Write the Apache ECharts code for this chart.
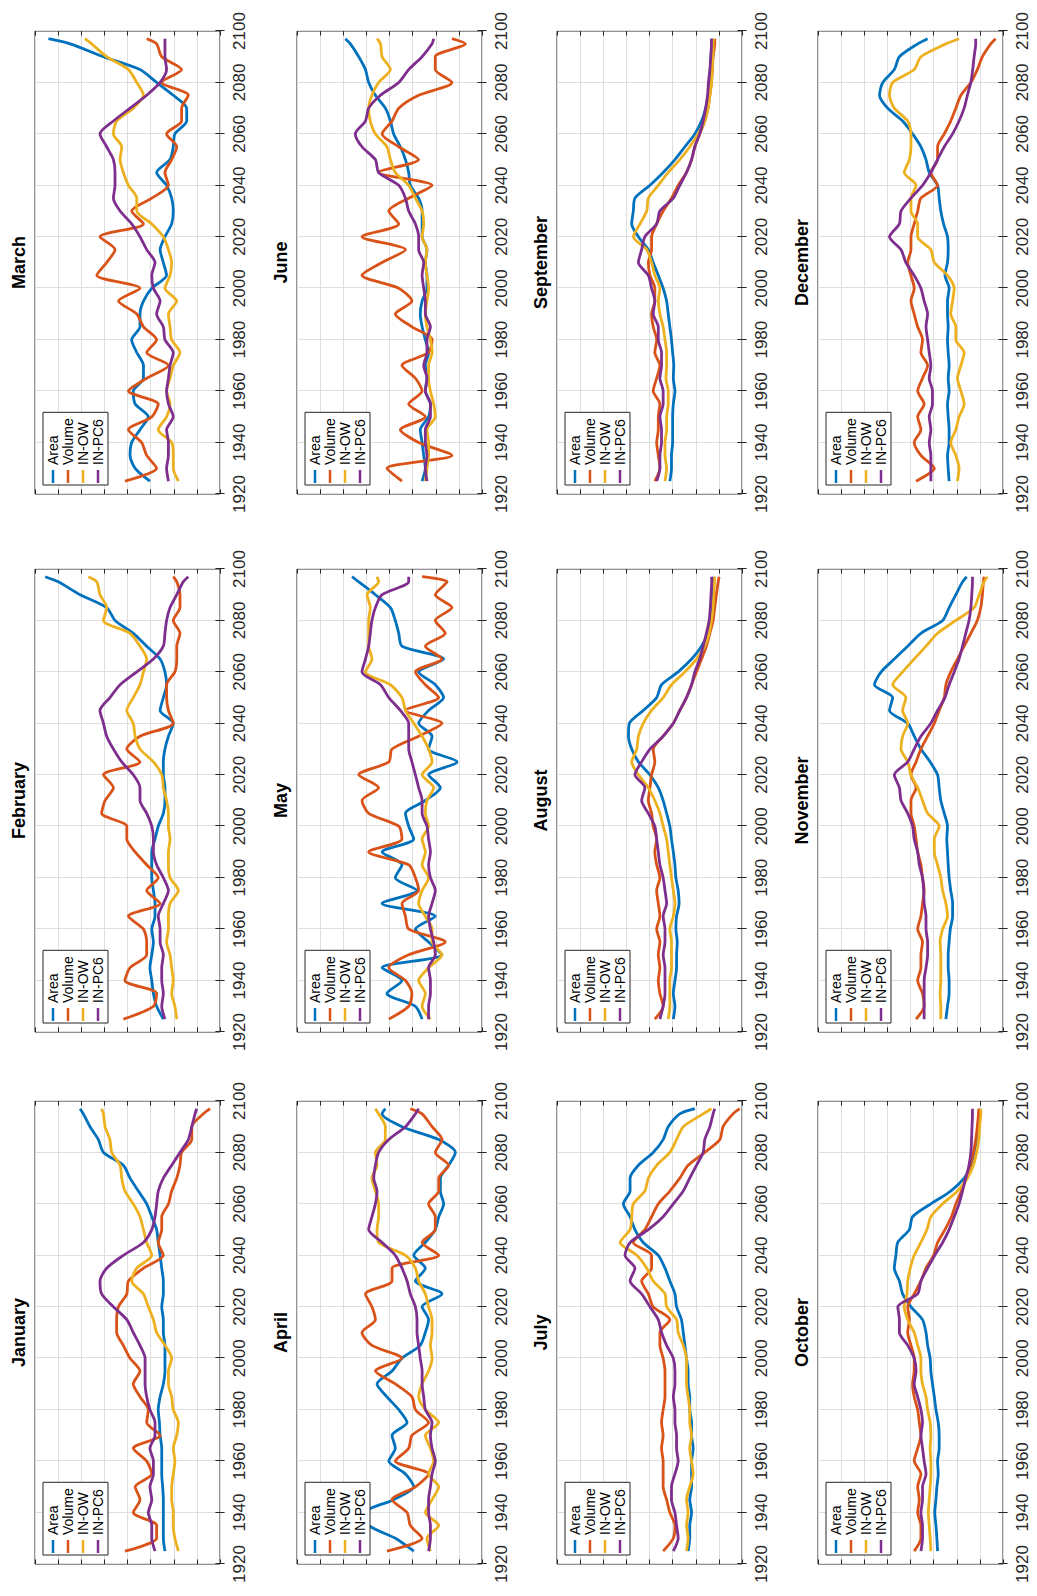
<!DOCTYPE html>
<html>
<head>
<meta charset="utf-8">
<title>Monthly indicators 1920–2100</title>
<script src="https://cdn.jsdelivr.net/npm/echarts/dist/echarts.min.js"></script>
<style>
  html, body { margin: 0; padding: 0; width: 1037px; height: 1596px; overflow: hidden; background: #fff; }
  /* The figure is laid out in landscape and turned a quarter turn counter-clockwise. */
  #chart { position: absolute; left: 0; top: 0; width: 1596px; height: 1037px;
           transform-origin: 0 0; transform: translate(0, 1596px) rotate(-90deg); }
</style>
</head>
<body>
<div id="chart"></div>
<script>
// ---- data ---------------------------------------------------------------
const YEARS = [1925, 1930, 1935, 1940, 1945, 1950, 1955, 1960, 1965, 1970, 1975, 1980,
               1985, 1990, 1995, 2000, 2005, 2010, 2015, 2020, 2025, 2030, 2035, 2040,
               2045, 2050, 2055, 2060, 2065, 2070, 2075, 2080, 2085, 2090, 2095, 2097];
const YEAR_TICKS = [1920, 1940, 1960, 1980, 2000, 2020, 2040, 2060, 2080, 2100];
const SERIES_NAMES = ['Area', 'Volume', 'IN-OW', 'IN-PC6'];
const MONTH_NAMES = ['January', 'February', 'March', 'April', 'May', 'June',
                     'July', 'August', 'September', 'October', 'November', 'December'];

const JAN_AREA   = [2.38,2.45,2.45,2.45,2.45,2.48,2.52,2.52,2.52,2.59,2.62,2.67,2.59,2.45,2.38,2.38,2.38,2.45,2.45,2.52,2.45,2.45,2.52,2.59,2.67,2.74,2.95,3.17,3.53,3.89,4.18,5.04,5.26,5.62,5.91,6.05];
const JAN_VOLUME = [4.11,2.74,2.74,3.75,3.46,3.67,2.95,3.17,3.75,2.59,3.17,3.10,3.46,3.75,3.46,3.89,4.18,4.47,4.47,4.39,4.03,3.96,3.31,2.45,2.67,2.52,2.52,2.23,2.09,1.87,1.73,1.66,1.22,1.22,0.72,0.43];
const JAN_INOW   = [1.80,1.95,2.02,2.02,2.09,2.09,2.02,1.95,2.02,1.87,1.80,2.02,2.09,2.23,2.23,2.09,2.38,2.74,2.88,3.10,3.31,3.82,3.60,2.95,3.17,3.31,3.46,3.75,4.11,4.25,4.32,4.68,4.76,4.97,5.04,5.12];
const JAN_INPC6  = [2.81,2.95,2.95,3.10,2.95,3.03,2.88,2.88,3.03,2.81,2.81,3.03,3.17,3.24,3.24,3.24,3.46,3.75,4.03,4.61,5.12,5.19,4.90,4.18,3.31,2.95,2.81,2.74,2.67,2.45,2.09,1.73,1.37,1.22,1.08,1.01];

const FEB_AREA   = [2.45,2.74,2.88,2.95,3.03,2.95,2.88,2.95,2.81,2.81,2.88,2.95,2.95,2.95,2.81,2.67,2.45,2.38,2.38,2.45,2.45,2.38,2.23,2.02,2.59,2.45,2.31,2.38,2.59,3.17,3.75,4.54,4.90,6.05,6.99,7.56];
const FEB_VOLUME = [4.18,2.88,2.74,4.11,3.89,3.17,3.17,3.31,3.96,2.59,3.17,2.67,3.17,3.67,4.03,4.03,5.12,4.97,4.61,5.04,3.46,4.03,3.46,2.02,2.23,2.31,2.31,1.95,1.87,1.87,1.73,2.02,1.73,1.73,1.87,2.02];
const FEB_INOW   = [1.87,1.95,2.09,2.02,2.09,2.16,2.31,2.23,2.23,2.16,1.80,2.16,2.23,2.23,2.16,2.23,2.23,2.31,2.45,2.52,2.88,3.46,3.67,3.75,4.03,3.75,3.46,3.31,3.17,3.46,3.89,5.04,4.90,5.19,5.33,5.69];
const FEB_INPC6  = [2.38,2.52,2.45,2.52,2.52,2.45,2.59,2.59,2.67,2.45,2.23,2.45,2.74,2.88,2.88,2.95,3.17,3.46,3.46,3.75,4.25,4.61,4.90,5.04,5.19,4.76,4.32,3.60,2.88,2.45,2.38,2.31,2.16,1.87,1.59,1.37];

const MAR_AREA   = [3.03,3.67,3.89,3.82,3.46,3.10,3.67,3.75,3.31,3.31,3.60,3.82,3.46,3.46,3.31,2.95,2.31,2.45,2.59,2.38,2.09,2.02,2.09,2.31,2.74,2.16,2.02,1.95,1.44,1.44,2.02,2.74,3.46,5.04,6.48,7.42];
const MAR_VOLUME = [4.11,2.74,3.17,3.39,3.96,2.95,2.67,3.96,3.17,2.23,3.17,2.74,3.31,3.60,4.39,3.46,5.33,4.90,4.54,5.19,3.31,3.82,2.95,2.23,2.38,2.09,1.87,2.31,1.66,1.66,1.37,2.52,1.66,2.52,2.74,3.17];
const MAR_INOW   = [1.80,2.02,2.02,2.09,2.67,2.31,2.16,2.31,2.16,2.02,1.73,2.09,2.16,2.23,1.87,2.38,2.16,2.09,2.23,2.45,2.95,3.60,3.60,3.96,4.18,4.32,4.25,4.61,4.47,3.75,3.31,3.60,3.96,4.90,5.55,5.84];
const MAR_INPC6  = [2.23,2.31,2.23,2.23,2.31,2.02,2.23,2.31,2.23,2.16,2.02,2.38,2.45,2.74,2.59,2.88,2.95,2.81,3.17,3.46,3.82,4.32,4.61,4.54,4.54,4.61,4.90,5.19,4.61,3.89,3.17,2.59,2.31,2.38,2.38,2.38];

const APR_AREA   = [2.95,3.75,4.90,5.04,3.82,2.95,3.31,4.03,3.75,3.89,3.24,3.60,4.11,4.54,3.89,3.46,2.67,2.45,2.31,2.59,1.73,2.88,2.45,2.95,2.45,2.02,1.87,1.66,1.80,1.80,1.44,1.15,1.87,3.46,4.32,4.18];
const APR_VOLUME = [4.11,2.59,3.10,3.24,3.89,2.88,2.31,3.75,3.17,3.03,2.31,2.88,3.03,3.75,4.61,3.46,4.76,5.19,4.61,4.76,5.04,3.89,3.89,1.87,2.59,2.02,2.02,2.31,1.87,1.87,1.44,2.02,1.73,2.16,2.59,3.10];
const APR_INOW   = [2.23,2.38,1.87,2.45,2.16,1.87,2.31,2.09,2.23,2.45,1.87,2.45,2.74,2.59,2.31,2.16,2.23,2.16,2.16,2.31,2.45,2.74,2.88,3.31,4.47,4.54,4.47,4.47,4.61,4.76,4.54,4.61,4.18,4.18,4.47,4.61];
const APR_INPC6  = [2.31,2.23,2.23,2.31,2.31,2.23,2.16,2.02,2.16,2.23,2.16,2.45,2.52,2.59,2.59,2.67,2.74,2.81,2.81,2.88,3.10,3.24,3.46,3.75,4.32,4.90,4.76,4.61,4.54,4.68,4.61,4.47,4.03,3.31,2.88,2.74];

const MAY_AREA   = [2.59,2.88,4.11,3.46,4.32,1.73,2.31,2.88,2.02,4.32,2.81,3.75,3.46,4.32,2.95,3.17,3.31,2.45,1.80,2.31,1.08,2.31,2.16,2.74,2.31,1.66,2.02,2.74,1.66,3.46,3.60,3.75,3.96,4.61,5.33,5.62];
const MAY_VOLUME = [4.03,3.17,3.03,3.31,4.03,3.17,1.59,3.17,3.31,3.46,2.74,2.88,3.17,4.90,3.46,3.60,4.90,5.19,4.47,5.33,4.03,3.89,2.74,1.73,3.31,1.87,2.45,2.88,1.73,2.45,1.59,2.02,1.30,2.02,1.51,2.59];
const MAY_INOW   = [2.23,2.59,2.45,2.74,2.31,1.73,2.16,2.16,2.45,2.74,2.59,2.31,2.59,2.45,2.59,2.31,2.45,2.38,2.09,2.59,2.16,2.31,2.59,2.95,3.31,3.46,3.96,5.04,4.76,4.90,4.90,4.90,4.83,4.97,4.47,4.54];
const MAY_INPC6  = [2.31,2.31,2.23,2.23,2.31,2.02,2.09,2.23,2.31,2.16,2.02,2.23,2.31,2.23,2.31,2.38,2.59,2.59,2.74,2.88,3.03,3.17,3.17,3.17,3.53,4.03,4.39,5.19,5.04,4.90,4.83,4.76,4.61,4.32,3.17,3.17];

const JUN_AREA   = [2.59,2.45,2.52,2.59,2.67,2.31,2.23,2.45,2.38,2.45,2.31,2.45,2.59,2.67,2.59,2.38,2.38,2.45,2.38,2.59,2.59,2.59,2.74,3.10,3.17,3.31,3.53,3.82,3.96,4.18,4.61,4.90,5.04,5.33,5.69,5.91];
const JUN_VOLUME = [3.46,4.11,1.30,2.74,3.53,2.45,3.17,2.59,2.88,3.46,2.31,2.16,3.03,3.75,3.03,3.60,5.19,4.32,3.31,5.19,3.60,4.03,3.17,2.16,4.47,2.74,3.60,4.32,3.89,3.60,2.74,1.30,2.02,2.02,0.72,1.30];
const JUN_INOW   = [2.45,2.38,2.31,2.31,2.38,2.02,2.09,2.23,2.31,2.31,2.16,2.23,2.38,2.45,2.38,2.31,2.38,2.45,2.38,2.59,2.52,2.59,2.88,3.17,3.75,3.96,4.11,4.61,4.83,4.90,4.76,4.47,3.96,4.32,4.39,4.54];
const JUN_INPC6  = [2.38,2.45,2.38,2.45,2.45,2.23,2.23,2.45,2.38,2.52,2.38,2.38,2.23,2.45,2.45,2.52,2.59,2.52,2.74,2.74,2.88,3.17,3.31,3.60,4.47,4.61,5.19,5.48,5.04,4.90,4.39,3.60,3.17,2.59,2.16,2.09];

const JUL_AREA   = [2.33,2.26,2.26,2.18,2.26,2.18,2.18,2.18,2.11,2.18,2.18,2.26,2.26,2.33,2.33,2.40,2.47,2.54,2.62,2.83,2.90,3.12,3.33,3.62,4.27,4.63,4.84,5.13,4.84,4.84,4.48,3.84,3.41,3.19,2.69,2.04];
const JUL_VOLUME = [3.41,2.97,2.90,3.12,3.26,3.41,3.41,3.41,3.48,3.41,3.48,3.41,3.33,3.33,3.33,3.41,3.55,3.55,3.12,3.84,4.05,4.34,3.91,3.91,4.70,4.20,3.91,3.62,3.12,2.69,2.33,1.61,0.96,0.82,0.39,0.10];
const JUL_INOW   = [2.40,2.33,2.40,2.33,2.40,2.26,2.11,2.18,2.26,2.18,2.26,2.26,2.33,2.40,2.40,2.40,2.54,2.76,2.83,3.26,3.33,3.84,4.12,4.55,5.27,4.84,4.77,4.70,4.20,4.05,3.69,3.12,2.83,2.54,1.68,1.32];
const JUL_INPC6  = [2.97,2.76,2.83,2.90,3.05,3.05,2.90,2.76,2.83,2.83,2.90,2.90,2.97,2.90,2.90,2.97,3.26,3.48,3.62,3.98,4.34,4.84,4.63,5.06,4.84,4.05,3.41,2.97,2.54,2.26,1.97,1.68,1.61,1.39,1.25,1.18];

const AUG_AREA   = [2.97,2.90,2.97,2.90,2.83,2.83,2.80,2.86,2.83,2.72,2.76,2.86,2.90,2.97,3.05,3.12,3.26,3.41,3.62,3.98,4.48,4.77,4.91,4.87,4.27,3.69,3.48,2.76,2.18,1.75,1.47,1.32,1.28,1.25,1.24,1.24];
const AUG_VOLUME = [3.77,3.41,3.55,3.62,3.55,3.62,3.55,3.69,3.55,3.62,3.69,3.55,3.69,3.77,3.69,3.84,3.91,4.05,3.98,3.91,3.77,3.84,3.41,2.97,2.69,2.40,2.18,1.97,1.75,1.54,1.39,1.25,1.18,1.11,1.03,0.99];
const AUG_INOW   = [3.19,3.12,3.12,3.12,3.05,3.05,3.05,3.12,2.97,2.90,2.97,3.05,3.12,3.19,3.26,3.41,3.55,3.77,4.05,4.48,4.77,4.55,4.48,4.27,3.91,3.41,3.05,2.47,1.97,1.61,1.42,1.32,1.25,1.22,1.19,1.18];
const AUG_INPC6  = [3.55,3.41,3.33,3.33,3.33,3.41,3.33,3.33,3.41,3.26,3.33,3.41,3.55,3.62,3.69,3.77,4.05,4.34,4.20,4.63,4.34,3.98,3.41,2.97,2.69,2.40,2.18,2.04,1.83,1.68,1.54,1.42,1.37,1.34,1.31,1.31];

const SEP_AREA   = [3.12,3.05,3.05,3.00,3.00,3.00,2.97,2.90,2.97,2.95,3.00,3.05,3.12,3.19,3.26,3.41,3.62,3.84,4.05,4.48,4.77,4.70,4.63,3.98,3.41,2.90,2.47,2.04,1.75,1.57,1.47,1.39,1.37,1.34,1.31,1.29];
const SEP_VOLUME = [3.77,3.55,3.62,3.69,3.62,3.62,3.55,3.84,3.69,3.55,3.77,3.69,3.84,3.91,3.77,3.77,3.98,4.05,3.91,3.91,3.69,3.41,3.05,2.76,2.40,2.18,2.04,1.83,1.61,1.47,1.39,1.32,1.28,1.25,1.18,1.18];
const SEP_INOW   = [3.33,3.26,3.33,3.33,3.26,3.26,3.19,3.19,3.29,3.26,3.26,3.33,3.41,3.55,3.62,3.55,3.77,3.91,4.12,4.70,4.41,4.12,4.05,3.62,3.19,2.69,2.26,1.90,1.61,1.47,1.39,1.32,1.29,1.26,1.25,1.25];
const SEP_INPC6  = [3.69,3.55,3.55,3.48,3.48,3.55,3.41,3.41,3.55,3.48,3.48,3.62,3.62,3.84,3.77,3.91,4.05,4.48,4.34,4.20,3.69,3.55,2.97,2.69,2.40,2.18,2.04,1.83,1.68,1.57,1.49,1.45,1.39,1.35,1.32,1.32];

const OCT_AREA   = [2.83,2.86,2.90,2.95,2.90,2.86,2.80,2.83,2.76,2.76,2.80,2.90,2.97,3.05,3.12,3.15,3.26,3.33,3.48,3.98,4.34,4.48,4.70,4.63,4.55,4.05,3.91,3.12,2.26,1.68,1.39,1.25,1.14,1.08,1.03,1.02];
const OCT_VOLUME = [3.84,3.55,3.55,3.69,3.62,3.69,3.55,3.84,3.69,3.55,3.62,3.69,3.84,3.91,3.84,3.84,3.98,4.12,4.05,4.12,3.84,3.55,3.33,3.00,2.83,2.51,2.23,2.04,1.80,1.61,1.42,1.28,1.18,1.11,1.06,1.05];
const OCT_INOW   = [3.12,3.15,3.19,3.23,3.19,3.15,3.12,3.12,3.15,3.12,3.15,3.26,3.33,3.48,3.55,3.55,3.69,3.84,4.12,4.27,4.15,4.12,4.01,3.84,3.55,3.29,3.12,2.61,1.97,1.54,1.28,1.14,1.05,1.01,0.96,0.96];
const OCT_INPC6  = [3.55,3.48,3.48,3.55,3.48,3.48,3.33,3.41,3.48,3.55,3.48,3.55,3.69,3.84,3.76,3.84,4.12,4.48,4.48,4.55,3.69,3.55,3.26,2.95,2.61,2.33,2.11,1.90,1.75,1.61,1.47,1.39,1.36,1.34,1.32,1.32];

const NOV_AREA   = [2.47,2.40,2.33,2.33,2.37,2.37,2.33,2.28,2.18,2.18,2.26,2.33,2.37,2.40,2.43,2.40,2.54,2.69,2.76,2.83,3.15,3.55,3.84,4.12,4.91,4.77,5.56,5.27,4.70,4.12,3.55,2.61,2.33,2.04,1.75,1.57];
const NOV_VOLUME = [3.76,3.41,3.48,3.69,3.55,3.55,3.48,3.69,3.55,3.48,3.41,3.48,3.55,3.69,3.76,3.84,3.98,3.98,3.76,3.98,3.76,3.55,3.26,2.97,2.76,2.54,2.47,2.26,1.97,1.68,1.39,1.11,0.96,0.89,0.85,0.82];
const NOV_INOW   = [2.69,2.69,2.72,2.69,2.69,2.69,2.72,2.61,2.40,2.47,2.61,2.69,2.83,2.97,2.97,2.76,3.26,3.48,3.69,3.98,4.12,4.41,4.34,4.12,4.34,4.20,4.77,4.34,3.84,3.33,2.83,2.04,1.25,1.03,0.82,0.68];
const NOV_INPC6  = [3.41,3.41,3.41,3.41,3.33,3.26,3.26,3.33,3.33,3.41,3.43,3.48,3.62,3.69,3.84,3.91,4.12,4.41,4.48,4.70,4.12,3.84,3.55,3.12,2.83,2.51,2.33,2.11,1.90,1.75,1.61,1.47,1.39,1.35,1.32,1.32];

const DEC_AREA   = [2.33,2.37,2.40,2.33,2.33,2.37,2.40,2.33,2.37,2.33,2.37,2.40,2.37,2.40,2.40,2.33,2.51,2.40,2.37,2.40,2.57,2.69,2.76,2.83,3.19,3.33,3.55,3.91,4.34,4.99,5.34,5.20,4.70,4.48,3.69,3.26];
const DEC_VOLUME = [3.76,2.97,3.55,3.84,3.55,3.69,3.41,3.69,3.48,3.26,3.55,3.48,3.69,3.84,3.98,3.84,3.98,4.12,3.98,3.98,3.84,3.69,3.55,2.83,3.12,2.83,2.83,2.54,2.26,2.04,1.82,1.39,1.11,0.89,0.53,0.32];
const DEC_INOW   = [1.97,1.90,2.04,2.26,2.04,1.90,1.68,1.82,1.97,1.82,1.68,2.04,2.04,2.26,2.18,2.11,2.40,2.97,3.12,3.69,3.69,3.98,3.98,3.76,4.27,4.05,3.98,3.98,4.12,4.70,4.91,4.77,3.84,3.55,2.47,1.90];
const DEC_INPC6  = [3.12,3.12,3.12,3.19,3.12,3.19,3.05,3.05,3.19,3.12,3.19,3.26,3.33,3.26,3.41,3.55,3.84,4.20,4.41,4.91,4.48,4.41,3.98,3.48,3.12,2.83,2.54,2.18,1.90,1.68,1.54,1.39,1.31,1.25,1.18,1.18];

// one entry per month, in the order Area, Volume, IN-OW, IN-PC6
const MONTH_SERIES = [
  [JAN_AREA, JAN_VOLUME, JAN_INOW, JAN_INPC6],
  [FEB_AREA, FEB_VOLUME, FEB_INOW, FEB_INPC6],
  [MAR_AREA, MAR_VOLUME, MAR_INOW, MAR_INPC6],
  [APR_AREA, APR_VOLUME, APR_INOW, APR_INPC6],
  [MAY_AREA, MAY_VOLUME, MAY_INOW, MAY_INPC6],
  [JUN_AREA, JUN_VOLUME, JUN_INOW, JUN_INPC6],
  [JUL_AREA, JUL_VOLUME, JUL_INOW, JUL_INPC6],
  [AUG_AREA, AUG_VOLUME, AUG_INOW, AUG_INPC6],
  [SEP_AREA, SEP_VOLUME, SEP_INOW, SEP_INPC6],
  [OCT_AREA, OCT_VOLUME, OCT_INOW, OCT_INPC6],
  [NOV_AREA, NOV_VOLUME, NOV_INOW, NOV_INPC6],
  [DEC_AREA, DEC_VOLUME, DEC_INOW, DEC_INPC6]
];

// ---- layout & style (landscape coordinates, before the quarter turn) ---
const COLORS = ['#0072BD', '#D95319', '#EDB120', '#7E2F8E'];
const COL_LEFT = [32, 564, 1102];
const ROW_TOP = [35, 297, 557, 818];
const PANEL_W = 463;
const PANEL_H = 185;
const FONT = '"Liberation Sans", Arial, Helvetica, sans-serif';
const INK = '#262626';
const GRID_LINE = '#dedede';
const TICK_LEN = 4.6;

const chart = echarts.init(document.getElementById('chart'), null, { renderer: 'svg' });

const option = {
  animation: false,
  backgroundColor: '#ffffff',
  textStyle: { fontFamily: FONT },
  title: [], grid: [], xAxis: [], yAxis: [], legend: [], series: []
};

MONTH_NAMES.forEach((month, i) => {
  const left = COL_LEFT[i % 3];
  const top = ROW_TOP[Math.floor(i / 3)];

  option.grid.push({
    left: left, top: top, width: PANEL_W, height: PANEL_H,
    show: true, borderColor: INK, borderWidth: 1, backgroundColor: '#ffffff'
  });

  option.title.push({
    text: month, left: left + PANEL_W / 2, top: top - 25, textAlign: 'center', padding: 0,
    textStyle: { fontFamily: FONT, fontSize: 18, fontWeight: 'bold', color: '#000000' }
  });

  const tick = { show: true, inside: true, length: TICK_LEN, lineStyle: { color: INK, width: 1 } };

  // year axis (bottom, labelled) and its mirror on the top edge
  option.xAxis.push({
    gridIndex: i, type: 'value', min: YEAR_TICKS[0], max: YEAR_TICKS[YEAR_TICKS.length - 1],
    interval: 20, position: 'bottom',
    axisLine: { show: false }, axisTick: tick,
    axisLabel: { show: true, fontFamily: FONT, fontSize: 17, color: INK, margin: 11,
                 formatter: v => String(v) },
    splitLine: { show: true, lineStyle: { color: GRID_LINE, width: 1 } }
  });
  option.xAxis.push({
    gridIndex: i, type: 'value', min: 1920, max: 2100, interval: 20, position: 'top',
    axisLine: { show: false }, axisTick: tick, axisLabel: { show: false }, splitLine: { show: false }
  });

  // unlabelled value axis, with its mirror on the right edge
  option.yAxis.push({
    gridIndex: i, type: 'value', min: 0, max: 8, interval: 1, position: 'left',
    axisLine: { show: false }, axisTick: tick, axisLabel: { show: false },
    splitLine: { show: true, lineStyle: { color: GRID_LINE, width: 1 } }
  });
  option.yAxis.push({
    gridIndex: i, type: 'value', min: 0, max: 8, interval: 1, position: 'right',
    axisLine: { show: false }, axisTick: tick, axisLabel: { show: false }, splitLine: { show: false }
  });

  MONTH_SERIES[i].forEach((values, k) => {
    option.series.push({
      name: SERIES_NAMES[k], type: 'line',
      xAxisIndex: 2 * i, yAxisIndex: 2 * i,
      data: YEARS.map((y, j) => [y, values[j]]),
      showSymbol: false, smooth: 0.25, silent: true,
      itemStyle: { color: COLORS[k] },
      lineStyle: { color: COLORS[k], width: 2.8 },
      z: 3 + k
    });
  });

  option.legend.push({
    data: SERIES_NAMES, orient: 'vertical', left: left + 9, top: top + 8,
    selectedMode: false, icon: 'rect', itemWidth: 13, itemHeight: 2.5, itemGap: 1,
    padding: [3, 6, 3, 2], backgroundColor: '#ffffff', borderColor: INK, borderWidth: 1,
    textStyle: { fontFamily: FONT, fontSize: 14, lineHeight: 14, color: '#000000' },
    z: 10
  });
});

chart.setOption(option);
</script>
</body>
</html>
